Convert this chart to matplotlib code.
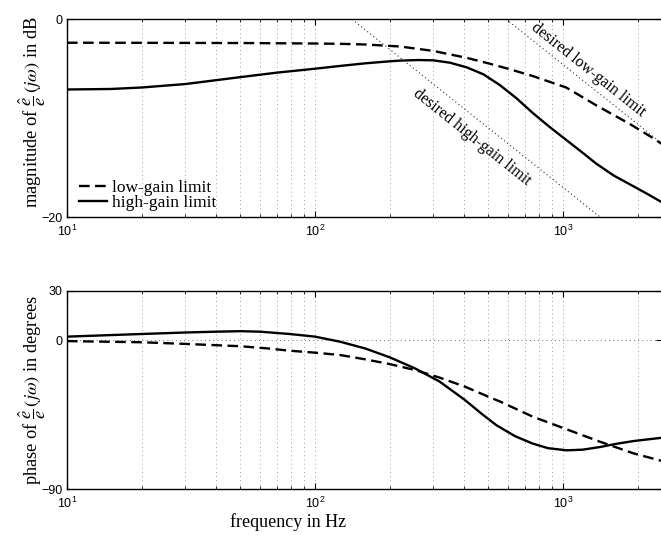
import numpy as np
import matplotlib
matplotlib.use('Agg')
import matplotlib.pyplot as plt
from matplotlib.ticker import LogLocator, NullFormatter

plt.rcParams['font.family'] = 'serif'
plt.rcParams['font.serif'] = ['Liberation Serif', 'DejaVu Serif']
plt.rcParams['mathtext.fontset'] = 'stix'

# magnitude, low-gain limit (dB)
f_mag_low = [10, 20, 50, 100, 126, 160, 220, 300, 409, 508, 600, 757, 1030, 1361, 1862, 2300, 2500]
mag_low = [-2.37, -2.38, -2.4, -2.45, -2.48, -2.55, -2.75, -3.2, -3.9, -4.5, -5.0, -5.75, -6.9, -8.7, -10.6,
           -12.0, -12.6]

# magnitude, high-gain limit (dB)
f_mag_high = [10, 15, 20, 30, 50, 70, 100, 126, 160, 200, 220, 260, 300, 350, 409, 478, 556, 650, 757, 884,
              1030, 1200, 1361, 1600, 1862, 2200, 2500]
mag_high = [-7.1, -7.05, -6.9, -6.55, -5.85, -5.4, -5.0, -4.72, -4.45, -4.25, -4.18, -4.12, -4.15, -4.39, -4.86,
            -5.57, -6.65, -8.0, -9.5, -10.9, -12.2, -13.5, -14.6, -15.8, -16.7, -17.7, -18.5]

# desired limits (straight lines, dB)
f_des_low = [590, 2500]
des_low = [0, -12.54]
f_des_high = [141, 1410]
des_high = [0, -20]

# phase, low-gain limit (deg)
f_ph_low = [10, 20, 30, 50, 64, 79, 100, 126, 159, 200, 253, 318, 403, 508, 556, 754, 1035, 1410, 1921, 2500]
ph_low = [-0.5, -1.2, -2.2, -3.6, -4.9, -6.3, -7.5, -8.9, -11.5, -14.4, -18.0, -22.6, -28.1, -34.6, -37.0,
          -46.2, -53.9, -61.4, -68.4, -73.0]

# phase, high-gain limit (deg)
f_ph_high = [10, 20, 30, 40, 50, 60, 79, 100, 126, 159, 200, 253, 318, 402, 470, 540, 640, 754, 870, 1035, 1200,
             1410, 1650, 1921, 2500]
ph_high = [2.2, 3.8, 4.7, 5.2, 5.5, 5.2, 3.8, 2.2, -0.85, -4.9, -10.3, -17.0, -25.0, -36.1, -44.5, -51.5, -58.0,
           -62.5, -65.3, -66.6, -66.2, -64.6, -62.6, -61.0, -59.0]

fig = plt.figure(figsize=(6.61, 5.35), dpi=100)
W, H = 661, 535
ax1 = fig.add_axes([67 / W, 1 - 217 / H, 594.7 / W, 197.7 / H])
ax2 = fig.add_axes([67 / W, 1 - 489 / H, 594.7 / W, 198.3 / H])

dash = (0, (4.5, 2.3))
for ax in (ax1, ax2):
    ax.set_xscale('log')
    ax.set_xlim(10, 2500)
    ax.xaxis.set_major_locator(LogLocator(base=10))
    ax.xaxis.set_minor_locator(LogLocator(base=10, subs=np.arange(2, 10)))
    ax.xaxis.set_minor_formatter(NullFormatter())
    ax.grid(True, which='both', axis='x', color='#808080', linewidth=0.6, linestyle=(0, (1, 4)))
    ax.grid(True, which='major', axis='y', color='#404040', linewidth=0.6, linestyle=(0, (1, 4)))
    ax.tick_params(which='both', direction='in', top=True, right=True, labelsize=9, pad=3.5)
    ax.tick_params(which='major', length=4, width=0.8)
    ax.tick_params(which='minor', length=2, width=0.6)
    ax.tick_params(axis='x', pad=5)
    for s in ax.spines.values():
        s.set_linewidth(1.0)

# magnitude plot
ax1.plot(f_mag_low, mag_low, color='black', linewidth=1.7, linestyle=dash, label='low-gain limit')
ax1.plot(f_mag_high, mag_high, color='black', linewidth=1.7, label='high-gain limit')
ax1.plot(f_des_low, des_low, color='#303030', linewidth=0.8, linestyle=(0, (1, 2.5)))
ax1.plot(f_des_high, des_high, color='#303030', linewidth=0.8, linestyle=(0, (1, 2.5)))
ax1.set_ylim(-20, 0)
ax1.set_yticks([-20, 0])
ax1.set_ylabel(r'magnitude of $\dfrac{\hat{e}}{e}\,(j\omega)$ in dB', fontsize=13.3)
ax1.yaxis.set_label_coords(-0.032, 0.53)

# rotation of the limit labels follows the -20 dB/dec lines on screen
p = ax1.transData.transform([(f_des_high[0], des_high[0]), (f_des_high[1], des_high[1])])
ang = np.degrees(np.arctan2(p[1][1] - p[0][1], p[1][0] - p[0][0]))
ax1.text(1260, -5.1, 'desired low-gain limit', rotation=ang, rotation_mode='anchor',
         ha='center', va='center', fontsize=11.5)
ax1.text(428, -11.9, 'desired high-gain limit', rotation=ang, rotation_mode='anchor',
         ha='center', va='center', fontsize=11.5)

ax1.legend(loc='lower left', bbox_to_anchor=(0.0, -0.033), frameon=False, fontsize=12.5,
           handlelength=1.6, handletextpad=0.3, labelspacing=-0.05, borderpad=0.2)

# phase plot
ax2.plot(f_ph_low, ph_low, color='black', linewidth=1.7, linestyle=dash)
ax2.plot(f_ph_high, ph_high, color='black', linewidth=1.7)
ax2.set_ylim(-90, 30)
ax2.set_yticks([-90, 0, 30])
ax2.set_ylabel(r'phase of $\dfrac{\hat{e}}{e}\,(j\omega)$ in degrees', fontsize=13.2)
ax2.yaxis.set_label_coords(-0.032, 0.5)
ax2.set_xlabel('frequency in Hz', fontsize=13)
ax2.xaxis.set_label_coords(0.371, -0.12)

for ax in (ax1, ax2):
    for lab in ax.get_xticklabels() + ax.get_yticklabels():
        lab.set_fontfamily('Liberation Sans')

fig.savefig('out.png', dpi=100)
